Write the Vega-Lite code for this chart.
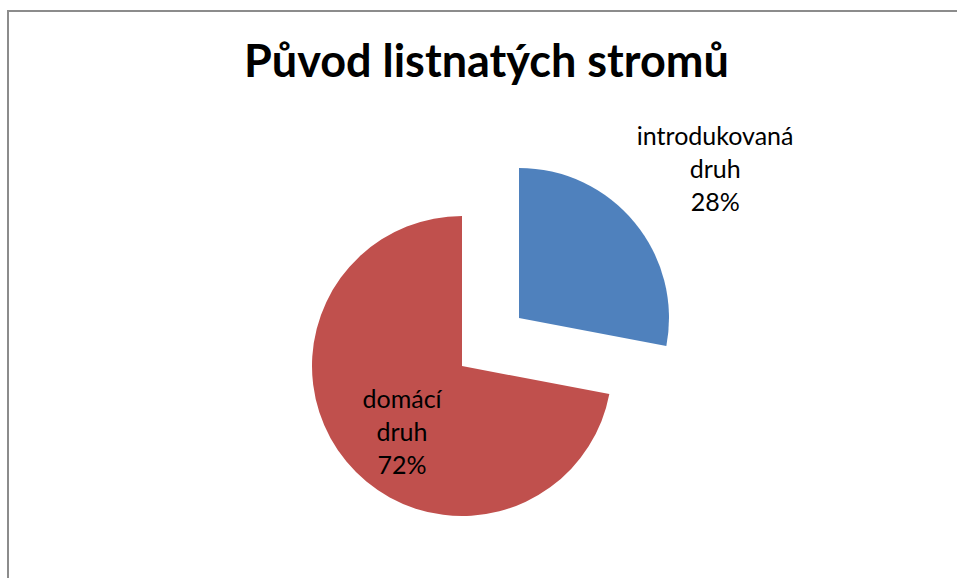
{
  "$schema": "https://vega.github.io/schema/vega-lite/v6.json",
  "width": 955,
  "height": 573,
  "autosize": {"type": "none"},
  "padding": {"left": 8, "top": 11, "right": -6, "bottom": -6},
  "background": "white",
  "view": {"stroke": "#8c8c8c", "strokeWidth": 2, "fill": "white"},
  "title": {
    "text": "Původ listnatých stromů",
    "font": "Lato",
    "fontSize": 45,
    "fontWeight": "bold",
    "color": "#000000",
    "anchor": "start",
    "baseline": "alphabetic",
    "offset": 0,
    "dx": 236,
    "dy": 111
  },
  "data": {
    "values": [
      {"druh": "introdukovaná druh", "podil": 28},
      {"druh": "domácí druh", "podil": 72}
    ]
  },
  "transform": [
    {"stack": "podil", "groupby": [], "sort": [{"field": "podil", "order": "ascending"}], "as": ["start", "end"]},
    {"calculate": "datum.druh + ' ' + datum.podil + '%'", "as": "popisek"}
  ],
  "layer": [
    {
      "transform": [{"filter": "datum.druh === 'introdukovaná druh'"}],
      "layer": [
        {
          "mark": {"type": "arc", "x": 511, "y": 307, "radius": 150},
          "encoding": {
            "theta": {"field": "start", "type": "quantitative", "scale": {"domain": [0, 100], "range": [0, 6.283185307]}},
            "theta2": {"field": "end"},
            "color": {"field": "druh", "type": "nominal", "scale": {"domain": ["introdukovaná druh", "domácí druh"], "range": ["#4F81BD", "#C0504D"]}, "legend": null}
          }
        },
        {
          "mark": {"type": "text", "x": 511, "y": 307, "radius": 246, "theta": 0.923, "dy": -33, "font": "Lato", "fontSize": 25, "lineBreak": " ", "lineHeight": 33, "color": "#000000", "align": "center", "baseline": "middle"},
          "encoding": {
            "text": {"field": "popisek", "type": "nominal"}
          }
        }
      ]
    },
    {
      "transform": [{"filter": "datum.druh === 'domácí druh'"}],
      "layer": [
        {
          "mark": {"type": "arc", "x": 454, "y": 355, "radius": 150},
          "encoding": {
            "theta": {"field": "start", "type": "quantitative"},
            "theta2": {"field": "end"},
            "color": {"field": "druh", "type": "nominal"}
          }
        },
        {
          "mark": {"type": "text", "x": 454, "y": 355, "radius": 90, "theta": 3.871, "dy": -33, "font": "Lato", "fontSize": 25, "lineBreak": " ", "lineHeight": 33, "color": "#000000", "align": "center", "baseline": "middle"},
          "encoding": {
            "text": {"field": "popisek", "type": "nominal"}
          }
        }
      ]
    }
  ]
}
